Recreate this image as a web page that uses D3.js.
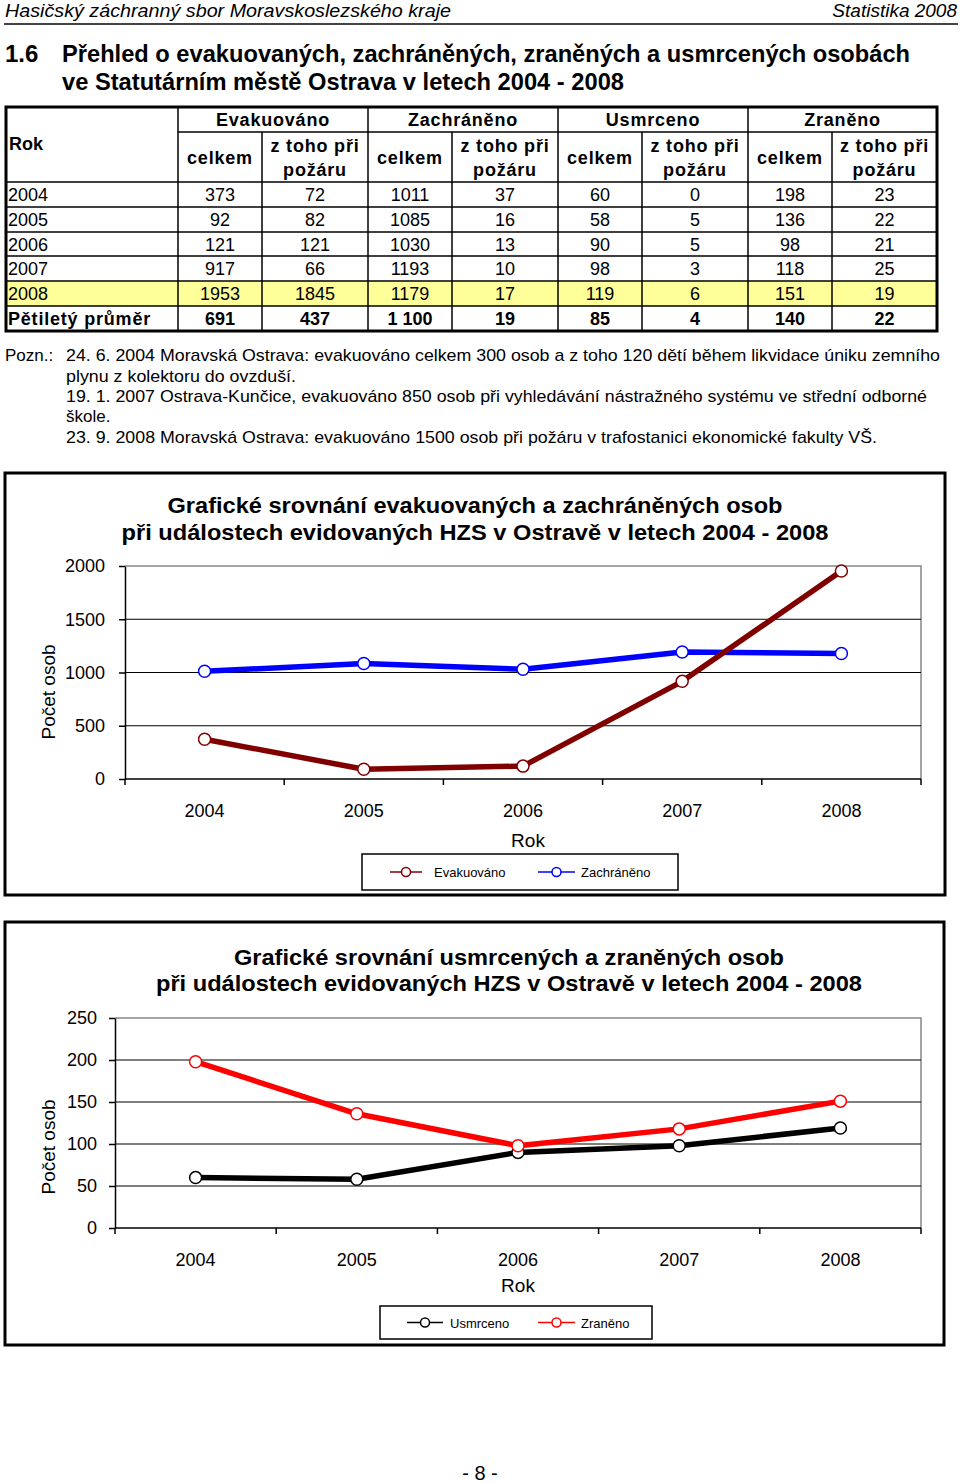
<!DOCTYPE html>
<html><head><meta charset="utf-8">
<script src="https://cdn.jsdelivr.net/npm/d3@7/dist/d3.min.js"></script>
<style>
body{margin:0;background:#fff;}
svg{display:block;}
text{font-family:"Liberation Sans",Arial,sans-serif;fill:#000;}
.narrow{font-family:"Liberation Sans Narrow","Arial Narrow","Liberation Sans",sans-serif;}
</style></head>
<body>
<svg id="page" width="960" height="1483"></svg>
<script>
// ---- data ----
const years = ["2004","2005","2006","2007","2008"];
const groups = ["Evakuováno","Zachráněno","Usmrceno","Zraněno"];
const evakCelkem = [373,92,121,917,1953];
const evakPozar = [72,82,121,66,1845];
const zachrCelkem = [1011,1085,1030,1193,1179];
const zachrPozar = [37,16,13,10,17];
const usmrCelkem = [60,58,90,98,119];
const usmrPozar = [0,5,5,3,6];
const zranCelkem = [198,136,98,118,151];
const zranPozar = [23,22,21,25,19];
const prumerLabel = "Pětiletý průměr";
const prumer = ["691","437","1 100","19","85","4","140","22"];
const yTicks1 = [0,500,1000,1500,2000];
const yTicks2 = [0,50,100,150,200,250];
const notes = [
 "24. 6. 2004 Moravská Ostrava: evakuováno celkem 300 osob a z toho 120 dětí během likvidace úniku zemního",
 "plynu z kolektoru do ovzduší.",
 "19. 1. 2007 Ostrava-Kunčice, evakuováno 850 osob při vyhledávání nástražného systému ve střední odborné",
 "škole.",
 "23. 9. 2008 Moravská Ostrava: evakuováno 1500 osob při požáru v trafostanici ekonomické fakulty VŠ."
];

const svg = d3.select("#page");
svg.append("rect").attr("width",960).attr("height",1483).attr("fill","#fff");

// ---- page header ----
svg.append("text").attr("class","narrow").attr("x",5).attr("y",17).attr("font-size",19).attr("font-style","italic")
  .attr("textLength",446).attr("lengthAdjust","spacingAndGlyphs").text("Hasičský záchranný sbor Moravskoslezského kraje");
svg.append("text").attr("class","narrow").attr("x",957).attr("y",17).attr("font-size",19).attr("font-style","italic")
  .attr("text-anchor","end").text("Statistika 2008");
svg.append("line").attr("x1",4).attr("x2",958).attr("y1",24).attr("y2",24).attr("stroke","#444").attr("stroke-width",2);

svg.append("text").attr("class","narrow").attr("x",5).attr("y",62).attr("font-size",24).attr("font-weight","bold").text("1.6");
svg.append("text").attr("class","narrow").attr("x",62).attr("y",62).attr("font-size",24).attr("font-weight","bold")
  .attr("textLength",848).attr("lengthAdjust","spacingAndGlyphs").text("Přehled o evakuovaných, zachráněných, zraněných a usmrcených osobách");
svg.append("text").attr("class","narrow").attr("x",62).attr("y",90).attr("font-size",24).attr("font-weight","bold")
  .attr("textLength",562).attr("lengthAdjust","spacingAndGlyphs").text("ve Statutárním městě Ostrava v letech 2004 - 2008");

// ---- table ----
const colX = [6,178,262,368,452,558,642,748,832,937];
const rowY = [107,132,182,207,232,256,281,306,331];
const tbl = svg.append("g");
tbl.append("rect").attr("x",colX[0]).attr("y",rowY[6]).attr("width",colX[9]-colX[0]).attr("height",rowY[7]-rowY[6]).attr("fill","#ffff99");
const ln = (x1,y1,x2,y2,w)=>tbl.append("line").attr("x1",x1).attr("y1",y1).attr("x2",x2).attr("y2",y2).attr("stroke","#000").attr("stroke-width",w||1.5);
ln(colX[1],rowY[1],colX[9],rowY[1]);
for(let i=2;i<rowY.length-1;i++) ln(colX[0],rowY[i],colX[9],rowY[i]);
ln(colX[1],rowY[0],colX[1],rowY[8]);
[3,5,7].forEach(i=>ln(colX[i],rowY[0],colX[i],rowY[8]));
[2,4,6,8].forEach(i=>ln(colX[i],rowY[1],colX[i],rowY[8]));
tbl.append("rect").attr("x",colX[0]).attr("y",rowY[0]).attr("width",colX[9]-colX[0]).attr("height",rowY[8]-rowY[0])
  .attr("fill","none").attr("stroke","#000").attr("stroke-width",3);
tbl.append("text").attr("x",9).attr("y",150).attr("font-size",18).attr("font-weight","bold").text("Rok");
groups.forEach((g,i)=>{
  tbl.append("text").attr("x",(colX[1+2*i]+colX[3+2*i])/2).attr("y",126).attr("text-anchor","middle")
    .attr("font-size",18).attr("font-weight","bold").attr("letter-spacing",0.8).text(g);
  tbl.append("text").attr("x",(colX[1+2*i]+colX[2+2*i])/2).attr("y",164).attr("text-anchor","middle")
    .attr("font-size",18).attr("font-weight","bold").attr("letter-spacing",0.8).text("celkem");
  tbl.append("text").attr("x",(colX[2+2*i]+colX[3+2*i])/2).attr("y",152).attr("text-anchor","middle")
    .attr("font-size",18).attr("font-weight","bold").attr("letter-spacing",0.8).text("z toho při");
  tbl.append("text").attr("x",(colX[2+2*i]+colX[3+2*i])/2).attr("y",176).attr("text-anchor","middle")
    .attr("font-size",18).attr("font-weight","bold").attr("letter-spacing",0.8).text("požáru");
});
const cols = [evakCelkem,evakPozar,zachrCelkem,zachrPozar,usmrCelkem,usmrPozar,zranCelkem,zranPozar];
years.forEach((y,r)=>{
  const cy = (rowY[2+r]+rowY[3+r])/2 + 6.5;
  tbl.append("text").attr("x",8).attr("y",cy).attr("font-size",18).text(y);
  cols.forEach((c,j)=>{
    tbl.append("text").attr("x",(colX[1+j]+colX[2+j])/2).attr("y",cy).attr("text-anchor","middle").attr("font-size",18).text(c[r]);
  });
});
{
  const cy = (rowY[7]+rowY[8])/2 + 6.5;
  tbl.append("text").attr("x",8).attr("y",cy).attr("font-size",18).attr("font-weight","bold").attr("letter-spacing",0.8).text(prumerLabel);
  prumer.forEach((v,j)=>tbl.append("text").attr("x",(colX[1+j]+colX[2+j])/2).attr("y",cy).attr("text-anchor","middle")
    .attr("font-size",18).attr("font-weight","bold").text(v));
}

// ---- notes ----
svg.append("text").attr("class","narrow").attr("x",5).attr("y",361).attr("font-size",17).text("Pozn.:");
const noteW = [874,230,861,46,811];
const noteY = [361,382,402,422,443];
notes.forEach((t,i)=>{
  const el = svg.append("text").attr("class","narrow").attr("x",66).attr("y",noteY[i]).attr("font-size",17).text(t);
  if(noteW[i]>100) el.attr("textLength",noteW[i]).attr("lengthAdjust","spacingAndGlyphs");
});

// ---- charts ----
function chart(cfg){
  const g = svg.append("g");
  g.append("rect").attr("x",cfg.box[0]).attr("y",cfg.box[1]).attr("width",cfg.box[2]-cfg.box[0]).attr("height",cfg.box[3]-cfg.box[1])
    .attr("fill","#fff").attr("stroke","#000").attr("stroke-width",3);
  cfg.title.forEach((t,i)=>g.append("text").attr("x",cfg.titleX).attr("y",cfg.titleY[i]).attr("text-anchor","middle")
    .attr("font-size",22).attr("font-weight","bold").attr("textLength",cfg.titleW[i]).attr("lengthAdjust","spacingAndGlyphs").text(t));
  const [L,T,R,B] = cfg.plot;
  const x = d3.scaleBand().domain(years).range([L,R]).padding(0);
  const y = d3.scaleLinear().domain([0,d3.max(cfg.yTicks)]).range([B,T]);
  g.append("path").attr("d",`M${L},${T}H${R}V${B}`).attr("fill","none").attr("stroke","#888").attr("stroke-width",1.5);
  g.selectAll(null).data(cfg.yTicks.slice(1,-1)).join("line")
    .attr("x1",L).attr("x2",R).attr("y1",d=>y(d)).attr("y2",d=>y(d)).attr("stroke","#000").attr("stroke-width",1.2);
  const ya = g.append("g").attr("transform",`translate(${L},0)`)
    .call(d3.axisLeft(y).tickValues(cfg.yTicks).tickFormat(d3.format("d")).tickSize(6).tickPadding(cfg.yPad).tickSizeOuter(0));
  ya.select(".domain").attr("stroke","#000").attr("stroke-width",1.5);
  ya.selectAll(".tick line").attr("stroke","#000").attr("stroke-width",1.5);
  ya.selectAll("text").attr("font-size",18).attr("font-family","Liberation Sans, Arial, sans-serif").attr("fill","#000");
  const xa = g.append("g").attr("transform",`translate(0,${B})`)
    .call(d3.axisBottom(x).tickSize(0).tickPadding(25));
  xa.select(".domain").remove();
  xa.selectAll("text").attr("font-size",18).attr("font-family","Liberation Sans, Arial, sans-serif").attr("fill","#000");
  g.append("line").attr("x1",L).attr("x2",R).attr("y1",B).attr("y2",B).attr("stroke","#000").attr("stroke-width",1.5);
  const edges = years.map(d=>x(d)).concat([R]);
  g.selectAll(null).data(edges).join("line").attr("x1",d=>d).attr("x2",d=>d).attr("y1",B).attr("y2",B+6)
    .attr("stroke","#000").attr("stroke-width",1.5);
  g.append("text").attr("x",cfg.rokX).attr("y",cfg.rokY).attr("text-anchor","middle").attr("font-size",19).text("Rok");
  g.append("text").attr("transform",`translate(${55},${cfg.ytitleY}) rotate(-90)`).attr("text-anchor","middle")
    .attr("font-size",19).text("Počet osob");
  const cx = d=>x(d)+x.bandwidth()/2;
  cfg.series.forEach(s=>{
    const line = d3.line().x((d,i)=>cx(years[i])).y(d=>y(d));
    g.append("path").attr("d",line(s.values)).attr("fill","none").attr("stroke",s.color).attr("stroke-width",5.5).attr("stroke-linejoin","round");
    g.selectAll(null).data(s.values).join("circle").attr("cx",(d,i)=>cx(years[i])).attr("cy",d=>y(d)).attr("r",6)
      .attr("fill","#fff").attr("stroke",s.color).attr("stroke-width",1.5);
  });
  const lb = cfg.legend;
  g.append("rect").attr("x",lb.box[0]).attr("y",lb.box[1]).attr("width",lb.box[2]-lb.box[0]).attr("height",lb.box[3]-lb.box[1])
    .attr("fill","#fff").attr("stroke","#000").attr("stroke-width",1.5);
  const ly = (lb.box[1]+lb.box[3])/2;
  cfg.legendOrder.forEach((si,k)=>{
    const s = cfg.series[si]; const e = lb.items[k];
    g.append("line").attr("x1",e[0]).attr("x2",e[1]).attr("y1",ly).attr("y2",ly).attr("stroke",s.color).attr("stroke-width",1.5);
    g.append("circle").attr("cx",(e[0]+e[1])/2).attr("cy",ly).attr("r",4.5).attr("fill","#fff").attr("stroke",s.color).attr("stroke-width",1.5);
    g.append("text").attr("x",e[2]).attr("y",ly+5).attr("font-size",13).text(s.name);
  });
}

chart({
  box:[5,473,945,895],
  title:["Grafické srovnání evakuovaných a zachráněných osob","při událostech evidovaných HZS v Ostravě v letech 2004 - 2008"],
  titleX:475, titleY:[513,540], titleW:[615,707],
  plot:[125,566,921,779], yTicks:yTicks1, yPad:14,
  rokX:528, rokY:847, ytitleY:692,
  series:[{name:"Zachráněno",values:zachrCelkem,color:"#0000ff"},{name:"Evakuováno",values:evakCelkem,color:"#800000"}],
  legendOrder:[1,0],
  legend:{box:[362,854,678,890],items:[[390,422,434],[538,575,581]]}
});
chart({
  box:[5,922,944,1345],
  title:["Grafické srovnání usmrcených a zraněných osob","při událostech evidovaných HZS v Ostravě v letech 2004 - 2008"],
  titleX:509, titleY:[965,991], titleW:[550,706],
  plot:[115,1018,921,1228], yTicks:yTicks2, yPad:12,
  rokX:518, rokY:1292, ytitleY:1147,
  series:[{name:"Usmrceno",values:usmrCelkem,color:"#000000"},{name:"Zraněno",values:zranCelkem,color:"#ff0000"}],
  legendOrder:[0,1],
  legend:{box:[380,1306,652,1339],items:[[407,443,450],[538,575,581]]}
});

svg.append("text").attr("x",480).attr("y",1480).attr("text-anchor","middle").attr("font-size",20).text("- 8 -");
</script>
</body></html>
